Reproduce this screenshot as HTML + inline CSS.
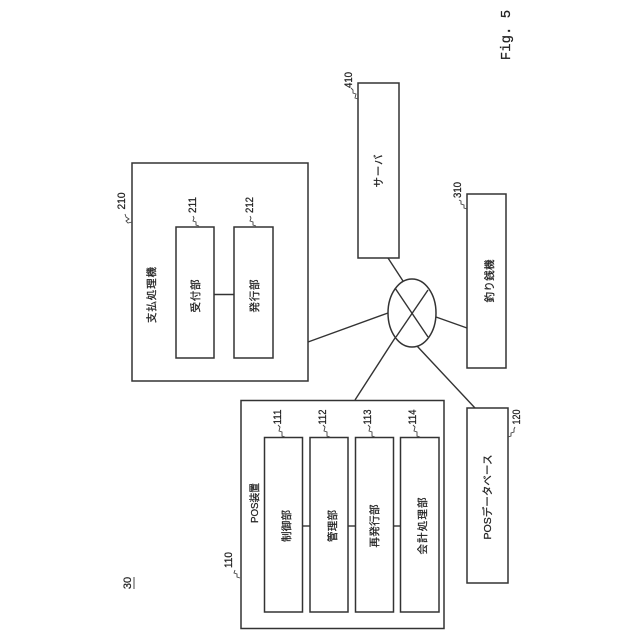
<!DOCTYPE html>
<html><head><meta charset="utf-8"><style>
html,body{margin:0;padding:0;background:#fff}
svg{display:block}
text{font-family:"Liberation Sans","Noto Sans CJK JP",sans-serif;font-size:10.5px;fill:#222;stroke:#222;stroke-width:.25;text-anchor:middle;dominant-baseline:central}
.n{font-size:11px}
.m{font-family:"Liberation Mono",monospace;font-size:14px}
rect,ellipse{fill:#fff;stroke:#333;stroke-width:1.5}
line{stroke:#333;stroke-width:1.4}
path{fill:none;stroke:#444;stroke-width:.9}
</style></head><body>
<svg width="640" height="640" viewBox="0 0 640 640" xmlns="http://www.w3.org/2000/svg">
<line x1="308" y1="342" x2="388" y2="313"/>
<line x1="388" y1="258" x2="403" y2="281"/>
<line x1="436" y1="317" x2="467" y2="328"/>
<line x1="395" y1="338" x2="355" y2="400"/>
<line x1="417" y1="346" x2="475" y2="408"/>
<rect x="132" y="163" width="176" height="218"/>
<rect x="176" y="227" width="38" height="131"/>
<rect x="234" y="227" width="39" height="131"/>
<line x1="214" y1="294.5" x2="234" y2="294.5"/>
<rect x="241" y="400.5" width="203" height="228"/>
<rect x="264.5" y="437.5" width="38" height="174.5"/>
<rect x="310" y="437.5" width="38" height="174.5"/>
<rect x="355.5" y="437.5" width="38" height="174.5"/>
<rect x="400.5" y="437.5" width="38.5" height="174.5"/>
<line x1="302.5" y1="526" x2="310" y2="526"/>
<line x1="348" y1="526" x2="355.5" y2="526"/>
<line x1="393.5" y1="526" x2="400.5" y2="526"/>
<rect x="358" y="83" width="41" height="175"/>
<rect x="467" y="194" width="39" height="174"/>
<rect x="467" y="408" width="41" height="175"/>
<ellipse cx="412" cy="313" rx="24" ry="34"/>
<line x1="395" y1="288" x2="428" y2="337"/>
<line x1="428" y1="290" x2="396" y2="337"/>

<text transform="translate(152 295) rotate(-90)" textLength="56">支払処理機</text>
<text transform="translate(196 296) rotate(-90)" textLength="33">受付部</text>
<text transform="translate(255 296) rotate(-90)" textLength="33">発行部</text>
<text transform="translate(255 503) rotate(-90)" textLength="40" lengthAdjust="spacingAndGlyphs">POS装置</text>
<text transform="translate(287 526) rotate(-90)" textLength="32">制御部</text>
<text transform="translate(333 526) rotate(-90)" textLength="32">管理部</text>
<text transform="translate(375 526) rotate(-90)" textLength="43">再発行部</text>
<text transform="translate(423 526) rotate(-90)" textLength="57">会計処理部</text>
<text transform="translate(379 171) rotate(-90)" textLength="33">サーバ</text>
<text transform="translate(490 281) rotate(-90)" textLength="43">釣り銭機</text>
<text transform="translate(488 497) rotate(-90)" textLength="85" lengthAdjust="spacingAndGlyphs">POSデータベース</text>

<text class="n" transform="translate(122 201) rotate(-90)" textLength="17" lengthAdjust="spacingAndGlyphs">210</text>
<text class="n" transform="translate(193 205) rotate(-90)" textLength="16" lengthAdjust="spacingAndGlyphs">211</text>
<text class="n" transform="translate(250 205) rotate(-90)" textLength="16" lengthAdjust="spacingAndGlyphs">212</text>
<text class="n" transform="translate(229 560) rotate(-90)" textLength="16" lengthAdjust="spacingAndGlyphs">110</text>
<text class="n" transform="translate(278 417) rotate(-90)" textLength="15" lengthAdjust="spacingAndGlyphs">111</text>
<text class="n" transform="translate(323 417) rotate(-90)" textLength="15" lengthAdjust="spacingAndGlyphs">112</text>
<text class="n" transform="translate(368 417) rotate(-90)" textLength="15" lengthAdjust="spacingAndGlyphs">113</text>
<text class="n" transform="translate(413 417) rotate(-90)" textLength="15" lengthAdjust="spacingAndGlyphs">114</text>
<text class="n" transform="translate(349 80) rotate(-90)" textLength="16" lengthAdjust="spacingAndGlyphs">410</text>
<text class="n" transform="translate(458 190) rotate(-90)" textLength="16" lengthAdjust="spacingAndGlyphs">310</text>
<text class="n" transform="translate(517 417) rotate(-90)" textLength="15" lengthAdjust="spacingAndGlyphs">120</text>
<text class="n" transform="translate(128 583) rotate(-90)">30</text>
<line x1="134" y1="577" x2="134" y2="589" style="stroke-width:.9"/>
<text class="m" transform="translate(507 35) rotate(-90)">Fig. 5</text>

<path d="M132 222l-4 1-2-2 3-2-3-2-1-3"/>
<path d="M199 226l-3-1 0-3-3-1 1-3-1-2"/>
<path d="M256 226l-3-1 0-3-3-1 1-3-1-2"/>
<path d="M240 578l-3-1 0-3-3-1 1-3"/>
<path d="M285 437l-3-1 0-4-3-1 1-4-2-2"/>
<path d="M330 437l-3-1 0-4-3-1 1-4-2-2"/>
<path d="M375 437l-3-1 0-4-3-1 1-4-2-2"/>
<path d="M420 437l-3-1 0-4-3-1 1-4-2-2"/>
<path d="M358 99l-3-1 1-4-3-1 0-3-2-2"/>
<path d="M467 209l-3-1 0-3-3-1 0-3-2-1"/>
<path d="M508 437l3-1 0-3 3-1 0-3 1-2"/>
</svg>
</body></html>
